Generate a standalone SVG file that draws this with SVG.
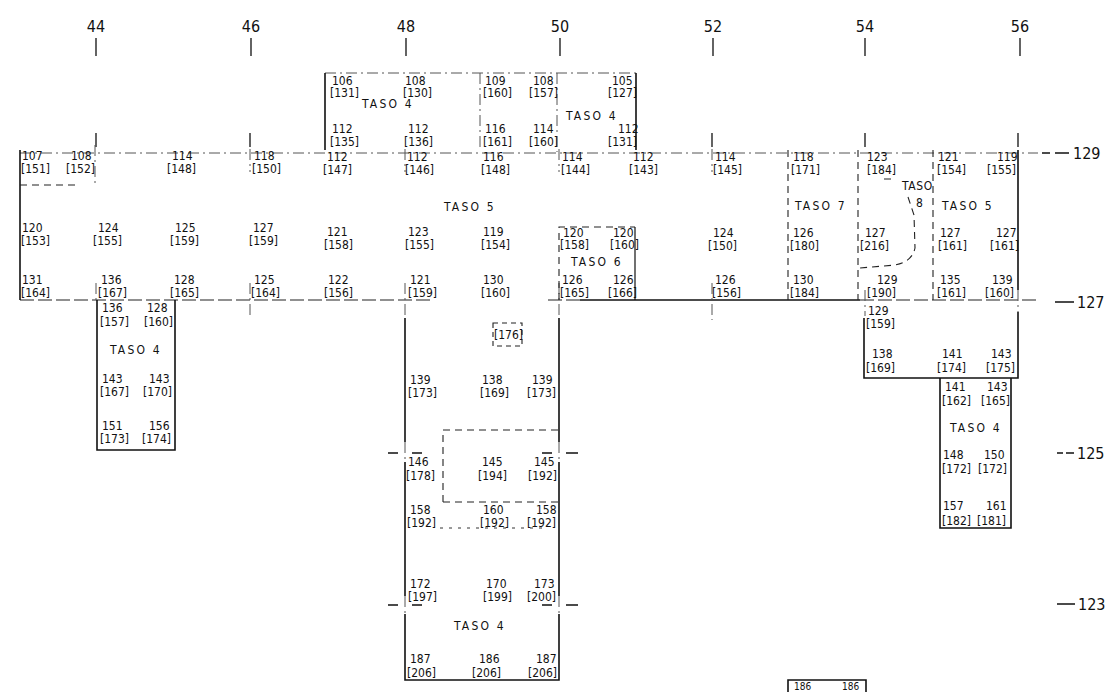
<svg xmlns="http://www.w3.org/2000/svg" width="1119" height="692" viewBox="0 0 1119 692">
<style>
.w{stroke:#111;stroke-width:1.6;fill:none}
.d{stroke:#222;stroke-width:1.1;stroke-dasharray:7 5;fill:none}
.ds{stroke:#222;stroke-width:1.2;stroke-dasharray:14 4;fill:none}
.dd{stroke:#555;stroke-width:1;stroke-dasharray:11 4 2 4;fill:none}
.dt{stroke:#333;stroke-width:1;stroke-dasharray:3 6;fill:none}
.tk{stroke:#111;stroke-width:1.3;fill:none}
text{font-family:"DejaVu Sans Condensed","DejaVu Sans","Liberation Sans",sans-serif;fill:#111}
.t{font-size:12px}
.s{font-size:12px;letter-spacing:2.2px}
.ax{font-size:16px}
</style>
<rect width="1119" height="692" fill="#fff"/>

<g id="axes">
<g class="ax" text-anchor="middle">
<text x="96" y="32">44</text><text x="251" y="32">46</text><text x="406" y="32">48</text><text x="560" y="32">50</text><text x="713" y="32">52</text><text x="865" y="32">54</text><text x="1020" y="32">56</text>
</g>
<path class="tk" d="M96 38V56M251 38V56M406 38V56M560 38V56M713 38V56M865 38V56M1020 38V56"/>
<g class="ax">
<text x="1073" y="159">129</text><text x="1077" y="308">127</text><text x="1077" y="459">125</text><text x="1078" y="610">123</text>
</g>
<path class="tk" d="M1042 153H1050M1055 153H1069M1055 302H1074M1057 453H1063M1066 453H1074M1057 604H1075"/>
</g>

<g id="connectors">
<path class="dd" d="M20 153H1038"/>
<path class="ds" d="M20 300H432M548 300H580"/>
<path class="w" d="M580 300H860" style="stroke-width:1.3"/>
<path class="ds" d="M860 300H1036"/>
<path class="tk" d="M96 133V147M250 133V147M712 133V147M865 133V147M1018 133V147"/>
<path class="dd" d="M250 149V172M405 149V172M559 149V172M712 149V172M250 283V318M405 283V318M559 283V318M712 283V320M96 283V300M865 290V316"/>
</g>

<g id="top-taso4">
<path class="dd" d="M325 73H636"/>
<path class="w" d="M325 73V150M636 73V150"/>
<path class="dd" d="M480 73V150M557 73V152"/>
<g class="t">
<text x="332" y="85">106</text><text x="330" y="97">[131]</text>
<text x="405" y="85">108</text><text x="403" y="97">[130]</text>
<text x="485" y="85">109</text><text x="483" y="97">[160]</text>
<text x="533" y="85">108</text><text x="529" y="97">[157]</text>
<text x="612" y="85">105</text><text x="608" y="97">[127]</text>
<text x="332" y="133">112</text><text x="330" y="146">[135]</text>
<text x="408" y="133">112</text><text x="404" y="146">[136]</text>
<text x="485" y="133">116</text><text x="483" y="146">[161]</text>
<text x="533" y="133">114</text><text x="529" y="146">[160]</text>
<text x="618" y="133">112</text><text x="608" y="146">[131]</text>
</g>
<text class="s" x="362" y="108">TASO 4</text>
<text class="s" x="566" y="120">TASO 4</text>
</g>

<g id="left-taso5">
<path class="w" d="M20 150V300"/>
<path class="d" d="M20 185H76"/>
<path class="dd" d="M95 145V186"/>
<g class="t">
<text x="22" y="160">107</text><text x="21" y="173">[151]</text>
<text x="71" y="160">108</text><text x="66" y="173">[152]</text>
<text x="172" y="160">114</text><text x="167" y="173">[148]</text>
<text x="254" y="160">118</text><text x="252" y="173">[150]</text>
<text x="22" y="232">120</text><text x="21" y="245">[153]</text>
<text x="98" y="232">124</text><text x="93" y="245">[155]</text>
<text x="175" y="232">125</text><text x="170" y="245">[159]</text>
<text x="253" y="232">127</text><text x="249" y="245">[159]</text>
<text x="22" y="284">131</text><text x="21" y="297">[164]</text>
<text x="101" y="284">136</text><text x="98" y="297">[167]</text>
<text x="174" y="284">128</text><text x="170" y="297">[165]</text>
<text x="254" y="284">125</text><text x="251" y="297">[164]</text>
</g>
</g>

<g id="left-taso4">
<path class="w" d="M97 300V450H175V300"/>
<g class="t">
<text x="102" y="312">136</text><text x="100" y="326">[157]</text>
<text x="147" y="312">128</text><text x="144" y="326">[160]</text>
<text x="102" y="383">143</text><text x="100" y="396">[167]</text>
<text x="149" y="383">143</text><text x="143" y="396">[170]</text>
<text x="102" y="430">151</text><text x="100" y="443">[173]</text>
<text x="149" y="430">156</text><text x="142" y="443">[174]</text>
</g>
<text class="s" x="110" y="354">TASO 4</text>
</g>

<g id="center-taso5">
<g class="t">
<text x="327" y="161">112</text><text x="323" y="174">[147]</text>
<text x="407" y="161">112</text><text x="405" y="174">[146]</text>
<text x="483" y="161">116</text><text x="481" y="174">[148]</text>
<text x="562" y="161">114</text><text x="561" y="174">[144]</text>
<text x="633" y="161">112</text><text x="629" y="174">[143]</text>
<text x="327" y="236">121</text><text x="324" y="249">[158]</text>
<text x="408" y="236">123</text><text x="405" y="249">[155]</text>
<text x="483" y="236">119</text><text x="481" y="249">[154]</text>
<text x="328" y="284">122</text><text x="324" y="297">[156]</text>
<text x="410" y="284">121</text><text x="408" y="297">[159]</text>
<text x="483" y="284">130</text><text x="481" y="297">[160]</text>
<text x="715" y="161">114</text><text x="713" y="174">[145]</text>
<text x="713" y="237">124</text><text x="708" y="250">[150]</text>
<text x="715" y="284">126</text><text x="712" y="297">[156]</text>
</g>
<text class="s" x="444" y="211">TASO 5</text>
</g>

<g id="taso6">
<path class="d" d="M559 300V227H635"/>
<path class="w" d="M635 227V300" style="stroke-width:1.2"/>
<g class="t">
<text x="563" y="237">120</text><text x="560" y="249">[158]</text>
<text x="613" y="237">120</text><text x="610" y="249">[160]</text>
<text x="562" y="284">126</text><text x="560" y="297">[165]</text>
<text x="613" y="284">126</text><text x="608" y="297">[166]</text>
</g>
<text class="s" x="571" y="266">TASO 6</text>
</g>

<g id="center-taso4">
<path class="w" d="M405 318V442M405 462V596M405 614V680H559V614M559 596V462M559 442V318"/>
<path class="dd" d="M405 442V462M405 596V614M559 442V462M559 596V614"/>
<path class="tk" d="M388 453H398M412 453H422M542 453H552M566 453H578M388 605H398M412 605H422M542 605H552M566 605H578"/>
<path class="d" d="M443 502V430H559M443 502H559"/>
<path class="dt" d="M440 528H548"/>
<rect class="d" x="493" y="323" width="29" height="23" style="stroke-dasharray:5 4"/>
<g class="t">
<text x="494" y="339">[176]</text>
<text x="410" y="384">139</text><text x="408" y="397">[173]</text>
<text x="482" y="384">138</text><text x="480" y="397">[169]</text>
<text x="532" y="384">139</text><text x="527" y="397">[173]</text>
<text x="408" y="466">146</text><text x="406" y="480">[178]</text>
<text x="482" y="466">145</text><text x="478" y="480">[194]</text>
<text x="534" y="466">145</text><text x="528" y="480">[192]</text>
<text x="410" y="514">158</text><text x="407" y="527">[192]</text>
<text x="483" y="514">160</text><text x="480" y="527">[192]</text>
<text x="536" y="514">158</text><text x="527" y="527">[192]</text>
<text x="410" y="588">172</text><text x="408" y="601">[197]</text>
<text x="486" y="588">170</text><text x="483" y="601">[199]</text>
<text x="534" y="588">173</text><text x="527" y="601">[200]</text>
<text x="410" y="663">187</text><text x="407" y="677">[206]</text>
<text x="479" y="663">186</text><text x="472" y="677">[206]</text>
<text x="536" y="663">187</text><text x="528" y="677">[206]</text>
</g>
<text class="s" x="454" y="630">TASO 4</text>
</g>

<g id="taso7">
<path class="d" d="M788 150V300M858 150V300"/>
<g class="t">
<text x="793" y="161">118</text><text x="791" y="174">[171]</text>
<text x="793" y="237">126</text><text x="790" y="250">[180]</text>
<text x="793" y="284">130</text><text x="790" y="297">[184]</text>
</g>
<text class="s" x="795" y="210">TASO 7</text>
</g>

<g id="taso8">
<path class="d" d="M884 179H896M908 197L914 215L915 248Q912 262 895 265L860 268"/>
<g class="t">
<text x="867" y="161">123</text><text x="867" y="174">[184]</text>
<text x="865" y="237">127</text><text x="860" y="250">[216]</text>
<text x="877" y="284">129</text><text x="867" y="297">[190]</text>
</g>
<text class="s" x="902" y="190" style="letter-spacing:0.6px">TASO</text>
<text class="s" x="916" y="207">8</text>
</g>

<g id="right-taso5">
<path class="d" d="M933 150V300"/>
<path class="w" d="M1018 150V290M1018 312V378H864V318"/>
<path class="dd" d="M1018 290V312"/>
<g class="t">
<text x="938" y="161">121</text><text x="937" y="174">[154]</text>
<text x="997" y="161">119</text><text x="987" y="174">[155]</text>
<text x="940" y="237">127</text><text x="938" y="250">[161]</text>
<text x="996" y="237">127</text><text x="990" y="250">[161]</text>
<text x="940" y="284">135</text><text x="937" y="297">[161]</text>
<text x="992" y="284">139</text><text x="985" y="297">[160]</text>
<text x="868" y="315">129</text><text x="866" y="328">[159]</text>
<text x="872" y="358">138</text><text x="866" y="372">[169]</text>
<text x="942" y="358">141</text><text x="937" y="372">[174]</text>
<text x="991" y="358">143</text><text x="986" y="372">[175]</text>
</g>
<text class="s" x="942" y="210">TASO 5</text>
</g>

<g id="right-taso4">
<path class="w" d="M940 378V528H1011V378"/>
<g class="t">
<text x="945" y="391">141</text><text x="942" y="405">[162]</text>
<text x="987" y="391">143</text><text x="981" y="405">[165]</text>
<text x="943" y="459">148</text><text x="942" y="473">[172]</text>
<text x="984" y="459">150</text><text x="978" y="473">[172]</text>
<text x="943" y="510">157</text><text x="942" y="525">[182]</text>
<text x="986" y="510">161</text><text x="977" y="525">[181]</text>
</g>
<text class="s" x="950" y="432">TASO 4</text>
</g>

<g id="bottom-partial">
<path class="w" d="M788 692V680H866V692"/>
<g class="t" style="font-size:10px">
<text x="794" y="690">186</text><text x="842" y="690">186</text>
</g>
</g>
</svg>
